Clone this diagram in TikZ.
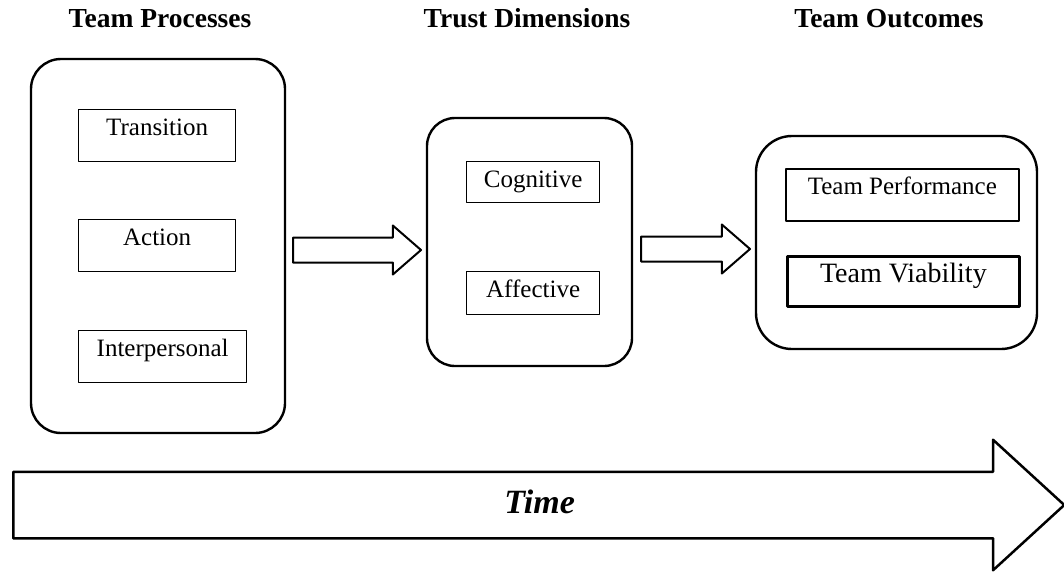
\documentclass[tikz,border=0pt]{standalone}
\usepackage{fontspec}
\setmainfont{Liberation Serif}
\usetikzlibrary{shapes.arrows}

\begin{document}
\begin{tikzpicture}[x=1pt,y=-1pt,line join=round,
		grp/.style={draw,line width=2.4pt,rounded corners=30pt,inner sep=0pt},
		item/.style={draw,line width=1.3pt,inner sep=0pt,text height=26pt,text depth=#1,anchor=north west,font=\fontsize{25}{30}\selectfont},
		head/.style={anchor=base,font=\fontsize{27.5}{33}\selectfont\bfseries},
		blk/.style={single arrow,draw,line width=2pt,inner sep=0pt,text height=12pt,text depth=11pt,single arrow head extend=12pt,single arrow tip angle=82,anchor=tail}]
	\useasboundingbox (0,0) rectangle (1064,571);
	% column titles
	\node[head] (hproc) at (160,27) {Team Processes};
	\node[head] (htrust) at (527,27) {Trust Dimensions};
	\node[head] (houtc) at (889,27) {Team Outcomes};
	% groups
	\node[grp,minimum width=254pt,minimum height=374pt] (proc) at (158,246) {};
	\node[grp,minimum width=205pt,minimum height=248pt,rounded corners=28pt] (trust) at (529.5,242) {};
	\node[grp,minimum width=281pt,minimum height=213pt,rounded corners=36pt] (outc) at (896.5,242.5) {};
	% items
	\node[item=26pt,minimum width=157pt] (trans) at (78,109) {Transition};
	\node[item=26pt,minimum width=157pt] (act) at (78,219) {Action};
	\node[item=26pt,minimum width=168pt] (inter) at (78,330) {Interpersonal};
	\node[item=15pt,minimum width=133pt] (cog) at (466,161) {Cognitive};
	\node[item=17pt,minimum width=133pt] (aff) at (466,271) {Affective};
	\node[item=26pt,minimum width=233pt,line width=1.6pt] (perf) at (785,168) {Team Performance};
	\node[item=24pt,minimum width=232pt,line width=2.7pt,font=\fontsize{28}{33}\selectfont] (viab) at (786,255) {Team Viability};
	% block arrows
	\node[blk,minimum height=128pt] (arr1) at (292,250) {};
	\node[blk,minimum height=109pt] (arr2) at (640,249) {};
	\node[blk,line width=2.5pt,text height=32pt,text depth=32pt,single arrow head extend=32pt,single arrow tip angle=85,minimum height=1051pt,
		label={[font=\fontsize{34}{40}\selectfont\bfseries\itshape,xshift=19pt,yshift=3pt]center:Time}] (time) at (12,505) {};
\end{tikzpicture}
\end{document}
